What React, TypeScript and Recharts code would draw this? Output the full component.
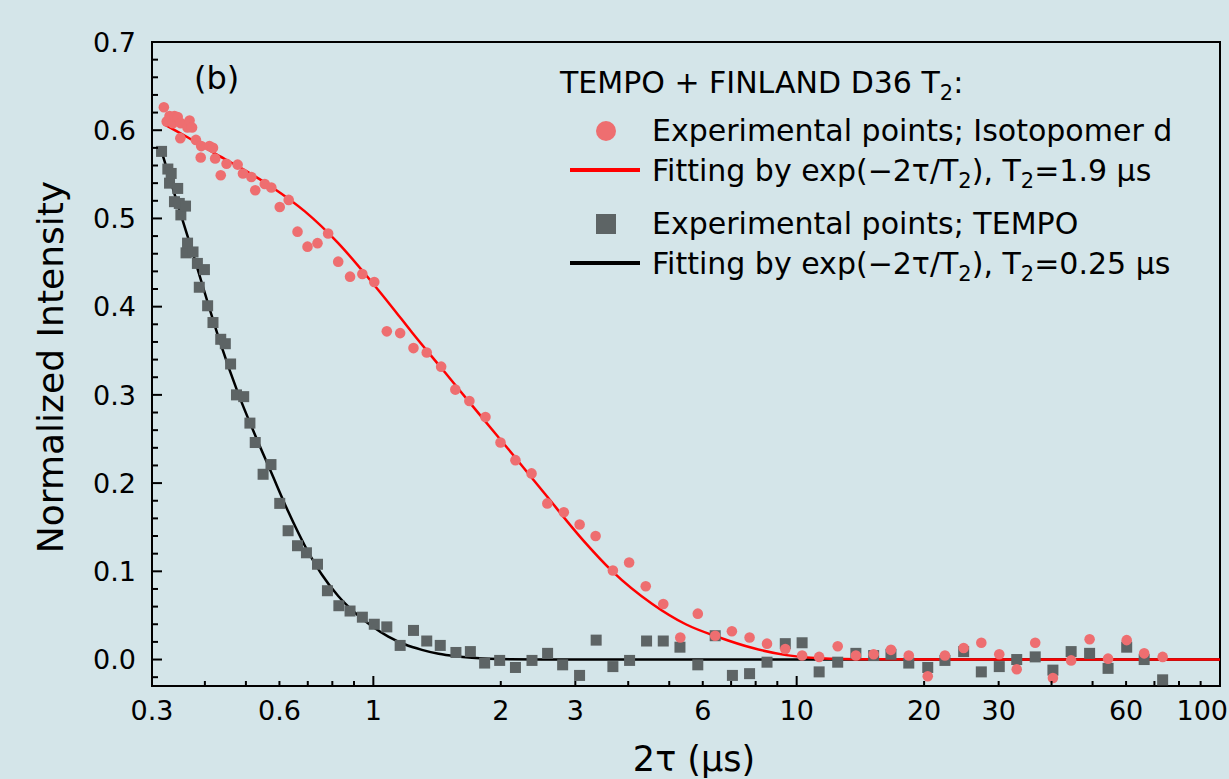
import React from 'react';
import { ComposedChart, Scatter, Line, XAxis, YAxis, ReferenceArea, Legend } from 'recharts';

// Experimental points; Isotopomer d  [2τ (µs), intensity]
const isotopomerPoints: [number, number][] = [
  [0.320, 0.626], [0.325, 0.610], [0.330, 0.616], [0.336, 0.608], [0.339, 0.616], [0.345, 0.615],
  [0.350, 0.591], [0.351, 0.608], [0.364, 0.603], [0.368, 0.611], [0.373, 0.603], [0.381, 0.589],
  [0.391, 0.569], [0.392, 0.582], [0.410, 0.582], [0.418, 0.580], [0.423, 0.568], [0.436, 0.549],
  [0.450, 0.562], [0.478, 0.561], [0.492, 0.551], [0.515, 0.547], [0.526, 0.532], [0.554, 0.539],
  [0.574, 0.535], [0.601, 0.513], [0.631, 0.521], [0.662, 0.485], [0.699, 0.468], [0.738, 0.472],
  [0.782, 0.483], [0.826, 0.451], [0.881, 0.434], [0.942, 0.437], [1.005, 0.428], [1.076, 0.372],
  [1.157, 0.370], [1.244, 0.353], [1.337, 0.348], [1.446, 0.332], [1.562, 0.306], [1.686, 0.293],
  [1.840, 0.275], [1.997, 0.246], [2.166, 0.226], [2.364, 0.211], [2.576, 0.177], [2.818, 0.167],
  [3.071, 0.153], [3.35, 0.140], [3.68, 0.101], [4.02, 0.110], [4.40, 0.083], [4.84, 0.063],
  [5.31, 0.025], [5.84, 0.052], [6.42, 0.027], [7.03, 0.032], [7.74, 0.025], [8.51, 0.018],
  [9.40, 0.012], [10.3, 0.0045], [11.3, 0.003], [12.5, 0.015], [13.8, 0.0045], [15.2, 0.006],
  [16.7, 0.011], [18.4, 0.0045], [20.4, -0.019], [22.4, 0.0045], [24.8, 0.013], [27.3, 0.019],
  [30.1, 0.006], [33.1, -0.011], [36.6, 0.019], [40.3, -0.021], [44.5, -0.001], [49.2, 0.023],
  [54.4, 0.001], [60.2, 0.022], [66.2, 0.007], [73.2, 0.003],
];

// Experimental points; TEMPO
const tempoPoints: [number, number][] = [
  [0.316, 0.576], [0.327, 0.556], [0.330, 0.540], [0.333, 0.551], [0.339, 0.519], [0.345, 0.534],
  [0.348, 0.517], [0.351, 0.504], [0.360, 0.514], [0.361, 0.461], [0.364, 0.472], [0.375, 0.462],
  [0.384, 0.449], [0.388, 0.422], [0.399, 0.442], [0.406, 0.401], [0.418, 0.382], [0.436, 0.363],
  [0.447, 0.358], [0.460, 0.335], [0.475, 0.300], [0.494, 0.298], [0.511, 0.268], [0.526, 0.246],
  [0.549, 0.210], [0.573, 0.221], [0.601, 0.177], [0.629, 0.146], [0.662, 0.129], [0.695, 0.121],
  [0.738, 0.108], [0.779, 0.078], [0.829, 0.061], [0.881, 0.055], [0.942, 0.048], [1.005, 0.040],
  [1.076, 0.037], [1.157, 0.016], [1.244, 0.033], [1.337, 0.021], [1.439, 0.016], [1.567, 0.008],
  [1.695, 0.009], [1.832, -0.004], [1.988, -0.001], [2.166, -0.009], [2.37, -0.001], [2.58, 0.007],
  [2.80, -0.006], [3.07, -0.018], [3.36, 0.022], [3.68, -0.008], [4.03, -0.001], [4.42, 0.021],
  [4.84, 0.021], [5.30, 0.014], [5.84, -0.006], [6.42, 0.027], [7.05, -0.018], [7.74, -0.016],
  [8.51, -0.003], [9.40, 0.018], [10.3, 0.019], [11.3, -0.014], [12.5, -0.003], [13.8, 0.007],
  [15.2, 0.0045], [16.7, 0.006], [18.4, -0.004], [20.4, -0.009], [22.4, -0.001], [24.8, 0.009],
  [27.3, -0.014], [30.1, -0.008], [33.1, 0.0], [36.6, 0.003], [40.3, -0.012], [44.5, 0.009],
  [49.2, 0.007], [54.4, -0.010], [60.2, 0.014], [66.2, 0.0], [73.2, -0.023],
];

// Fitting curve, T2 = 1.9 µs
const isotopomerFit: [number, number][] = [
  [0.32, 0.607], [0.364, 0.592], [0.421, 0.574], [0.479, 0.559], [0.574, 0.536], [0.689, 0.508],
  [0.826, 0.472], [0.991, 0.428], [1.105, 0.400], [1.233, 0.371], [1.479, 0.325], [1.773, 0.279],
  [2.13, 0.233], [2.55, 0.187], [3.12, 0.136], [3.67, 0.100], [4.56, 0.063],
  [5.47, 0.040], [6.57, 0.025], [7.88, 0.013], [9.45, 0.005], [11.3, 0.0015], [15, 0.0003],
  [25, 0], [100, 0],
];

// Fitting curve, T2 = 0.25 µs
const tempoFit: [number, number][] = [
  [0.316, 0.576], [0.345, 0.516], [0.375, 0.460], [0.406, 0.405], [0.437, 0.356], [0.479, 0.302],
  [0.524, 0.256], [0.574, 0.212], [0.629, 0.168], [0.689, 0.129], [0.754, 0.097], [0.826, 0.072],
  [0.905, 0.053], [0.991, 0.038], [1.085, 0.026], [1.189, 0.017], [1.302, 0.011], [1.426, 0.0065],
  [1.562, 0.0037], [1.71, 0.0019], [1.87, 0.0008], [2.1, 0.0002], [2.5, 0], [100, 0],
];

const xDomain: [number, number] = [0.3, 100];
const yDomain: [number, number] = [-0.03, 0.7];
const xTicks = [0.3, 0.4, 0.5, 0.6, 0.7, 0.8, 0.9, 1, 2, 3, 4, 5, 6, 7, 8, 9, 10, 20, 30, 40, 50, 60, 70, 80, 90, 100];
const xTickLabels = [0.3, 0.6, 1, 2, 3, 6, 10, 20, 30, 60, 100];
const xMajorTicks = [1, 10, 100];
const yTicks = [-0.02, 0, 0.02, 0.04, 0.06, 0.08, 0.1, 0.12, 0.14, 0.16, 0.18, 0.2, 0.22, 0.24, 0.26, 0.28, 0.3,
  0.32, 0.34, 0.36, 0.38, 0.4, 0.42, 0.44, 0.46, 0.48, 0.5, 0.52, 0.54, 0.56, 0.58, 0.6, 0.62, 0.64, 0.66, 0.68, 0.7];
const yTickLabels = [0, 0.1, 0.2, 0.3, 0.4, 0.5, 0.6, 0.7];

const toObj = (arr: [number, number][]) => arr.map(([x, y]) => ({ x, y }));

const FONT = '"DejaVu Sans", Verdana, sans-serif';
const RED_DOT = '#ee6e70';
const GREY_SQ = '#5d6465';
const BG = '#d4e5e9';

const near = (list: number[], v: number) => list.some((m) => Math.abs(m - v) < 1e-9);

const XTick = (props: any) => {
  const { x, y, payload } = props;
  const v = payload.value;
  const major = near(xMajorTicks, v);
  const last = Math.abs(v - xDomain[1]) < 1e-9;
  return (
    <g>
      <line x1={x} x2={x} y1={y} y2={y - (major ? 10 : 5)} stroke="#000" strokeWidth={2} />
      {near(xTickLabels, v) && (
        <text x={last ? x + 8 : x} y={y + 34} textAnchor={last ? 'end' : 'middle'} fontSize={27} fontFamily={FONT} fill="#000">
          {String(v)}
        </text>
      )}
    </g>
  );
};

const YTick = (props: any) => {
  const { x, y, payload } = props;
  const v = payload.value;
  const major = near(yTickLabels, v);
  return (
    <g>
      <line x1={x} x2={x + (major ? 10 : 6)} y1={y} y2={y} stroke="#000" strokeWidth={2} />
      {major && (
        <text x={x - 16} y={y} dy="0.36em" textAnchor="end" fontSize={27} fontFamily={FONT} fill="#000">
          {v.toFixed(1)}
        </text>
      )}
    </g>
  );
};

const YTitle = (props: any) => {
  const vb = props.viewBox || { x: 52, y: 42, width: 100, height: 644 };
  const cx = vb.x + 11;
  const cy = vb.y + vb.height / 2 + 3;
  return (
    <text x={cx} y={cy} transform={`rotate(-90 ${cx} ${cy})`} textAnchor="middle" fontSize={36} fontFamily={FONT} fill="#000">
      Normalized Intensity
    </text>
  );
};

const XTitle = (props: any) => {
  const vb = props.viewBox || { x: 152, y: 686, width: 1068, height: 93 };
  return (
    <text x={vb.x + vb.width / 2 + 8} y={vb.y + 85} textAnchor="middle" fontSize={35} fontFamily={FONT} fill="#000">
      2τ (µs)
    </text>
  );
};

const LegendBox = () => {
  const fs = 30;
  const sfs = 21;
  const tx = 502;
  return (
    <svg width={1070} height={250} style={{ display: 'block', overflow: 'visible' }}>
      <text x={44} y={47} fontSize={32} fontFamily={FONT} fill="#000">(b)</text>
      <text x={410} y={51} fontSize={fs} fontFamily={FONT} fill="#000">
        TEMPO + FINLAND D36 T<tspan fontSize={sfs} dy={7}>2</tspan><tspan dy={-7}>:</tspan>
      </text>
      <circle cx={456} cy={89} r={10} fill={RED_DOT} />
      <text x={tx} y={99} fontSize={fs} fontFamily={FONT} fill="#000">Experimental points; Isotopomer d</text>
      <line x1={420} x2={490} y1={128} y2={128} stroke="#ff0000" strokeWidth={4} />
      <text x={tx} y={139} fontSize={fs} fontFamily={FONT} fill="#000">
        Fitting by exp(−2τ/T<tspan fontSize={sfs} dy={7}>2</tspan><tspan dy={-7}>), T</tspan>
        <tspan fontSize={sfs} dy={7}>2</tspan><tspan dy={-7}>=1.9 µs</tspan>
      </text>
      <rect x={446} y={172} width={20} height={20} fill={GREY_SQ} />
      <text x={tx} y={192} fontSize={fs} fontFamily={FONT} fill="#000">Experimental points; TEMPO</text>
      <line x1={420} x2={490} y1={221} y2={221} stroke="#000" strokeWidth={4} />
      <text x={tx} y={232} fontSize={fs} fontFamily={FONT} fill="#000">
        Fitting by exp(−2τ/T<tspan fontSize={sfs} dy={7}>2</tspan><tspan dy={-7}>), T</tspan>
        <tspan fontSize={sfs} dy={7}>2</tspan><tspan dy={-7}>=0.25 µs</tspan>
      </text>
    </svg>
  );
};

const SquareShape = (p: any) => <rect x={p.cx - 5.5} y={p.cy - 5.5} width={11} height={11} fill={GREY_SQ} />;
const DotShape = (p: any) => <circle cx={p.cx} cy={p.cy} r={5.3} fill={RED_DOT} />;

export default function App() {
  return (
    <div style={{ position: 'absolute', left: 0, top: 0, width: 1229, height: 779, background: BG, overflow: 'hidden' }}>
      <ComposedChart width={1229} height={779} margin={{ top: 42, right: 9, bottom: 0, left: 52 }}>
        <XAxis
          type="number"
          dataKey="x"
          scale="log"
          domain={xDomain}
          allowDataOverflow
          ticks={xTicks}
          interval={0}
          tickSize={0}
          tickMargin={0}
          tickLine={false}
          tick={<XTick />}
          axisLine={{ stroke: '#000', strokeWidth: 2 }}
          height={93}
          label={<XTitle />}
        />
        <YAxis
          type="number"
          dataKey="y"
          domain={yDomain}
          allowDataOverflow
          ticks={yTicks}
          interval={0}
          tickSize={0}
          tickMargin={0}
          tickLine={false}
          tick={<YTick />}
          axisLine={{ stroke: '#000', strokeWidth: 2 }}
          width={100}
          label={<YTitle />}
        />
        <ReferenceArea x1={xDomain[0]} x2={xDomain[1]} y1={yDomain[0]} y2={yDomain[1]} fill="none" stroke="#000" strokeWidth={2} ifOverflow="visible" />
        <Scatter name="Experimental points; TEMPO" data={toObj(tempoPoints)} dataKey="y" shape={SquareShape} isAnimationActive={false} />
        <Scatter name="Experimental points; Isotopomer d" data={toObj(isotopomerPoints)} dataKey="y" shape={DotShape} isAnimationActive={false} />
        <Line name="Fit T2=0.25" data={toObj(tempoFit)} dataKey="y" type="monotone" stroke="#000" strokeWidth={2.5} dot={false} activeDot={false} isAnimationActive={false} />
        <Line name="Fit T2=1.9" data={toObj(isotopomerFit)} dataKey="y" type="monotone" stroke="#ff0000" strokeWidth={2.5} dot={false} activeDot={false} isAnimationActive={false} />
        <Legend
          layout="horizontal"
          verticalAlign="middle"
          align="center"
          content={<LegendBox />}
          wrapperStyle={{ left: 150, top: 42, width: 1070, height: 250, pointerEvents: 'none' }}
        />
      </ComposedChart>
    </div>
  );
}
